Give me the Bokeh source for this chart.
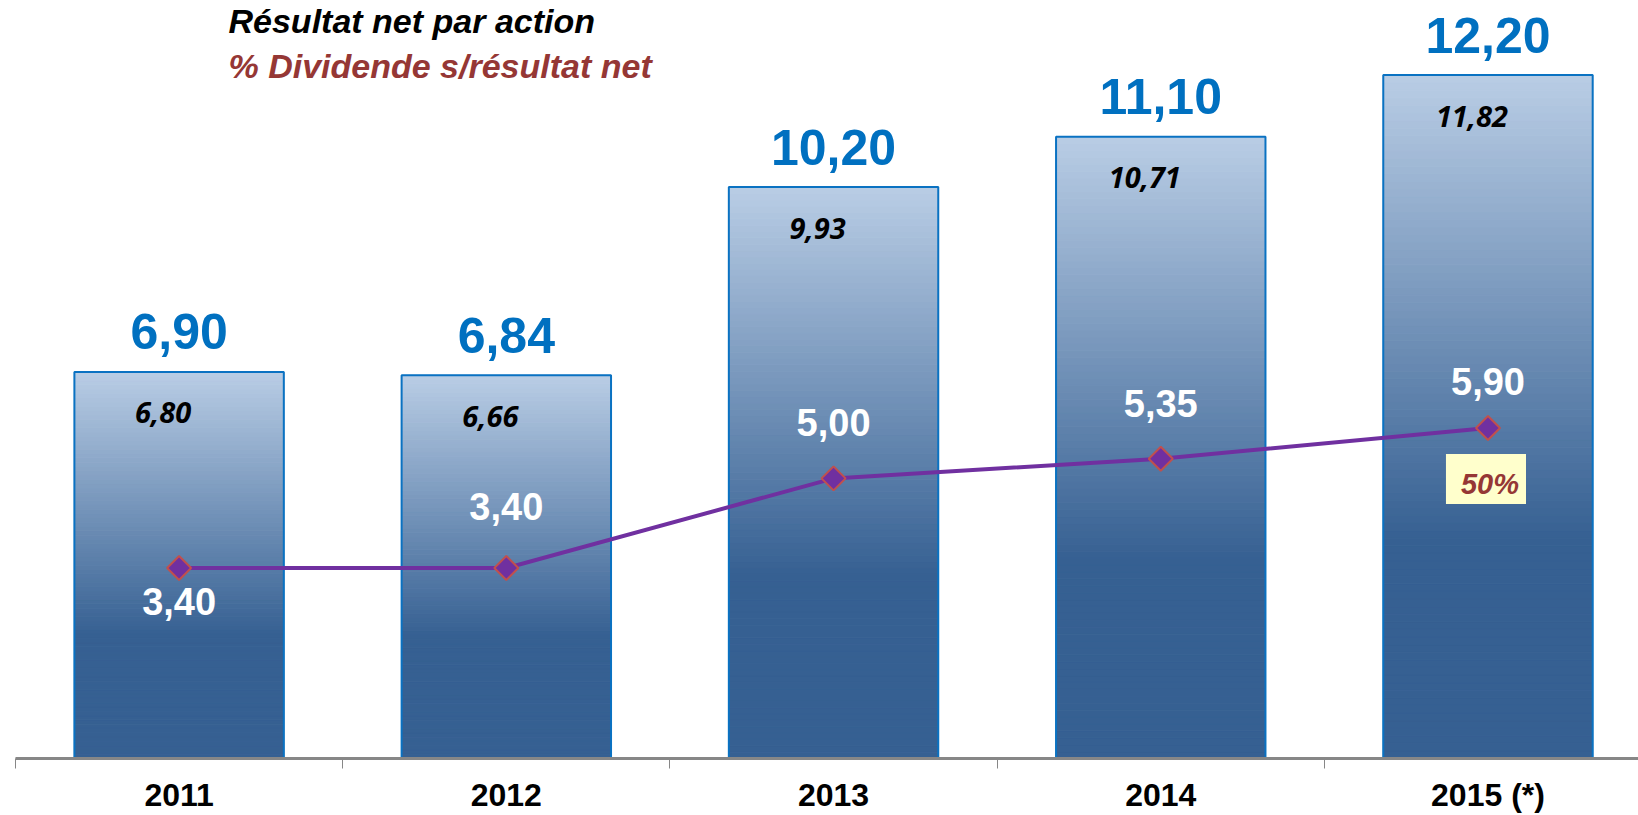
import numpy as np
from bokeh.plotting import figure
from bokeh.models import Range1d, FixedTicker, Label
from bokeh.core.properties import value
from bokeh.embed import file_html
from bokeh.resources import INLINE

# ---------------- data ----------------
years = ["2011", "2012", "2013", "2014", "2015 (*)"]
eps = [6.90, 6.84, 10.20, 11.10, 12.20]          # Résultat net par action
eps_inner = [6.80, 6.66, 9.93, 10.71, 11.82]     # valeurs en italique dans les barres
dividend = [3.40, 3.40, 5.00, 5.35, 5.90]        # dividende par action
payout_text = "50%"                               # % dividende s/résultat net (2015)

title1 = "Résultat net par action"
title2 = "% Dividende s/résultat net"

# ---------------- styles ----------------
FONT = "Liberation Sans"
BAR_W = 0.64
LIGHT = np.array([185, 205, 229])
DARK = np.array([54, 96, 146])
GRAD_END = 0.68          # fraction of bar height (from top) where gradient ends
div_label_offsets = [33, -62, -56, -55, -46]

def fmt(v):
    return f"{v:.2f}".replace(".", ",")

xs = list(range(len(years)))

W, H = 1638, 815
p = figure(width=W, height=H, output_backend="svg", toolbar_location=None,
           x_range=Range1d(-0.5, 4.46), y_range=Range1d(0, 13.53),
           min_border_left=15, min_border_right=0, min_border_top=0,
           min_border_bottom=0)
p.background_fill_color = "white"
p.border_fill_color = "white"
p.outline_line_color = None
p.grid.visible = False
p.yaxis.visible = False

# ---------------- gradient bars ----------------
N = 90
L, R, B, T, C = [], [], [], [], []
for x, v in zip(xs, eps):
    for k in range(N):
        ft = 1 - (k + 0.5) / N
        f = min(ft / GRAD_END, 1.0)
        c = LIGHT + (DARK - LIGHT) * f
        L.append(x - BAR_W / 2)
        R.append(x + BAR_W / 2)
        B.append(v * k / N)
        T.append(v * (k + 1) / N)
        C.append("#%02x%02x%02x" % tuple(int(round(u)) for u in c))
p.quad(left=L, right=R, bottom=B, top=T, fill_color=C, line_color=C, line_width=1)

p.quad(left=[x - BAR_W / 2 for x in xs], right=[x + BAR_W / 2 for x in xs],
       bottom=[0] * len(xs), top=eps, fill_color=None,
       line_color="#0a72c2", line_width=2)

# ---------------- labels on bars ----------------
p.text(x=xs, y=eps, text=[fmt(v) for v in eps], y_offset=-40,
       text_align="center", text_baseline="middle",
       text_font=value(FONT), text_font_style="bold", text_font_size="50px",
       text_color="#0070c0")

p.text(x=xs, y=eps, text=[fmt(v) for v in eps_inner], x_offset=-16, y_offset=41,
       text_align="center", text_baseline="middle",
       text_font=value("Open Sans"), text_font_style="bold italic",
       text_font_size="29px", text_color="black")

# ---------------- dividend line ----------------
p.line(x=xs, y=dividend, line_color="#7030a0", line_width=4)
p.scatter(x=xs, y=dividend, marker="square", angle=np.pi / 4, size=17,
          fill_color="#7030a0", line_color="#c0504d", line_width=2)

p.text(x=xs, y=dividend, text=[fmt(v) for v in dividend], y_offset=div_label_offsets,
       text_align="center", text_baseline="middle",
       text_font=value(FONT), text_font_style="bold", text_font_size="38px",
       text_color="white")

p.add_layout(Label(x=xs[-1], y=dividend[-1], x_offset=-2, y_offset=-51,
                   text=payout_text, text_align="center", text_baseline="middle",
                   text_font=FONT, text_font_style="bold italic", text_font_size="29px",
                   text_color="#953735", background_fill_color="#ffffcc",
                   padding=(15, 7, 14, 4)))

# ---------------- titles ----------------
p.add_layout(Label(x=213, y=738, x_units="screen", y_units="screen", text=title1,
                   text_font=FONT, text_font_style="bold italic", text_font_size="34px",
                   text_color="black", text_baseline="middle"))
p.add_layout(Label(x=213, y=693, x_units="screen", y_units="screen", text=title2,
                   text_font=FONT, text_font_style="bold italic", text_font_size="34px",
                   text_color="#953735", text_baseline="middle"))

# ---------------- x axis ----------------
ax = p.xaxis[0]
ax.ticker = FixedTicker(ticks=xs, minor_ticks=[x - 0.5 for x in xs] + [xs[-1] + 0.5])
ax.major_label_overrides = {x: y for x, y in zip(xs, years)}
ax.axis_line_color = "#878787"
ax.axis_line_width = 3
ax.major_tick_line_color = None
ax.major_tick_out = 0
ax.major_tick_in = 0
ax.minor_tick_line_color = "#878787"
ax.minor_tick_line_width = 1
ax.minor_tick_out = 10
ax.minor_tick_in = 0
ax.major_label_standoff = 8
ax.major_label_text_font = FONT
ax.major_label_text_font_style = "bold"
ax.major_label_text_font_size = "32px"
ax.major_label_text_color = "black"

open("out.html", "w").write(file_html(p, INLINE))
